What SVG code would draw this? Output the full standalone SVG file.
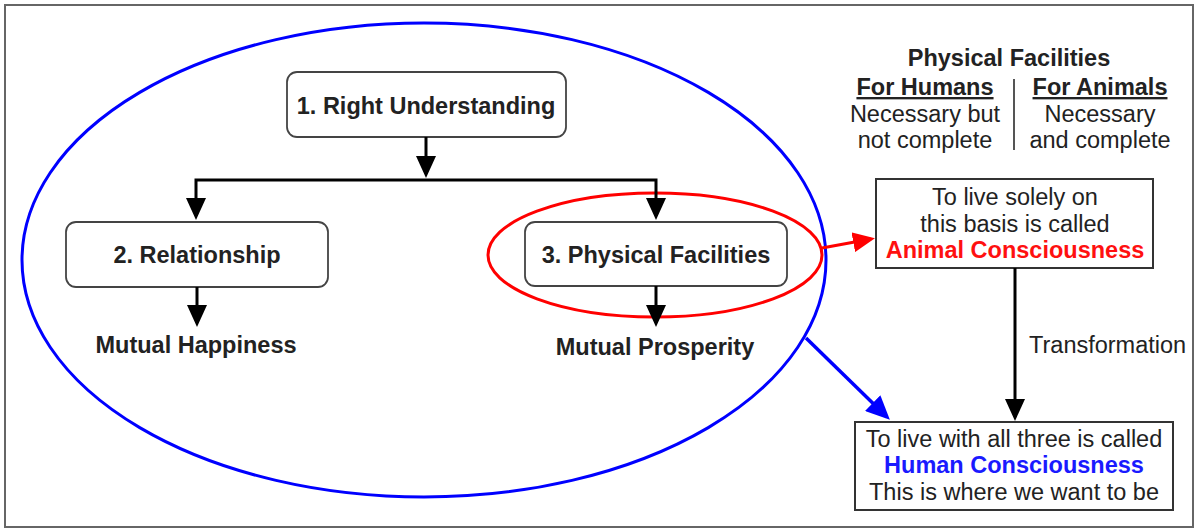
<svg xmlns="http://www.w3.org/2000/svg" width="1201" height="529" viewBox="0 0 1201 529">
  <style>
    text { font-family: "Liberation Sans", Arial, sans-serif; font-size: 23.5px; fill: #222; }
    .b { font-weight: bold; }
    .c { text-anchor: middle; }
    .rbox { fill: #fff; stroke: #444; stroke-width: 1.8; }
    .sbox { fill: #fff; stroke: #333; stroke-width: 2; }
    .conn { fill: none; stroke: #000; stroke-width: 3; }
  </style>
  <defs>
    <marker id="ah" markerUnits="userSpaceOnUse" viewBox="0 0 22 20" markerWidth="22" markerHeight="20" refX="18" refY="10" orient="auto">
      <path d="M0,0 L22,10 L0,20 z" fill="#000"/>
    </marker>
    <marker id="ahr" markerUnits="userSpaceOnUse" viewBox="0 0 22 20" markerWidth="22" markerHeight="20" refX="18" refY="10" orient="auto">
      <path d="M0,0 L22,10 L0,20 z" fill="#ff0000"/>
    </marker>
    <marker id="ahb" markerUnits="userSpaceOnUse" viewBox="0 0 24 22" markerWidth="24" markerHeight="22" refX="20" refY="11" orient="auto">
      <path d="M0,0 L24,11 L0,22 z" fill="#0000ff"/>
    </marker>
  </defs>

  <rect id="frame" x="5" y="5" width="1188" height="522" fill="#fff" stroke="#666" stroke-width="2"/>

  <g id="scope-all">
    <ellipse cx="424" cy="260" rx="402" ry="237" fill="none" stroke="#0000ff" stroke-width="3"/>
  </g>
  <g id="scope-physical">
    <ellipse cx="655" cy="255" rx="167" ry="62" fill="none" stroke="#ff0000" stroke-width="3"/>
  </g>

  <g id="right-understanding">
    <rect class="rbox" x="287" y="72" width="279" height="65" rx="10"/>
    <text class="b c" x="426" y="114">1. Right Understanding</text>
  </g>
  <g id="relationship">
    <rect class="rbox" x="66" y="222" width="262" height="65" rx="10"/>
    <text class="b c" x="197" y="263">2. Relationship</text>
  </g>
  <g id="physical-facilities">
    <rect class="rbox" x="525" y="222" width="262" height="64" rx="10"/>
    <text class="b c" x="656" y="263">3. Physical Facilities</text>
  </g>
  <g id="mutual-happiness">
    <text class="b c" x="196" y="353">Mutual Happiness</text>
  </g>
  <g id="mutual-prosperity">
    <text class="b c" x="655" y="355">Mutual Prosperity</text>
  </g>

  <g id="pf-table">
    <text class="b c" x="1009" y="66">Physical Facilities</text>
    <text class="b c" x="925" y="95" text-decoration="underline">For Humans</text>
    <text class="b c" x="1100" y="95" text-decoration="underline">For Animals</text>
    <line x1="1014" y1="79" x2="1014" y2="150" stroke="#555" stroke-width="2"/>
    <text class="c" x="925" y="122">Necessary but</text>
    <text class="c" x="925" y="148">not complete</text>
    <text class="c" x="1100" y="122">Necessary</text>
    <text class="c" x="1100" y="148">and complete</text>
  </g>

  <g id="animal-consciousness">
    <rect class="sbox" x="876" y="179" width="277" height="89"/>
    <text class="c" x="1015" y="205">To live solely on</text>
    <text class="c" x="1015" y="232">this basis is called</text>
    <text class="b c" x="1015" y="258" style="fill:#ff1010">Animal Consciousness</text>
  </g>

  <g id="human-consciousness">
    <rect class="sbox" x="855" y="422" width="318" height="88"/>
    <text class="c" x="1014" y="447">To live with all three is called</text>
    <text class="b c" x="1014" y="473" style="fill:#1a1aff">Human Consciousness</text>
    <text class="c" x="1014" y="500">This is where we want to be</text>
  </g>

  <g id="connectors">
    <path class="conn" d="M426,137 V174" marker-end="url(#ah)"/>
    <path class="conn" d="M426,180 H196 V216" marker-end="url(#ah)"/>
    <path class="conn" d="M426,180 H656 V216" marker-end="url(#ah)"/>
    <path class="conn" d="M197,287 V323" marker-end="url(#ah)"/>
    <path class="conn" d="M656,286 V323" marker-end="url(#ah)"/>
    <path class="conn" d="M1015,268 V417" marker-end="url(#ah)"/>
    <text x="1029" y="353">Transformation</text>
    <path d="M822,248 L871,239" fill="none" stroke="#ff0000" stroke-width="3" marker-end="url(#ahr)"/>
    <path d="M806,338 L887,417" fill="none" stroke="#0000ff" stroke-width="3.5" marker-end="url(#ahb)"/>
  </g>
</svg>
